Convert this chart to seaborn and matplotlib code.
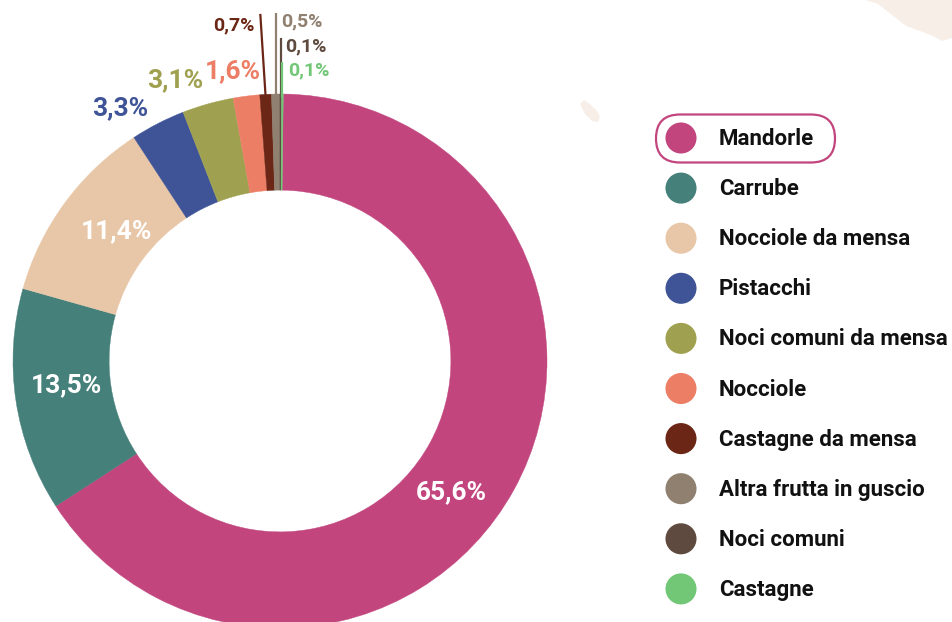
import matplotlib
matplotlib.use("Agg")
import matplotlib.pyplot as plt
import seaborn as sns
import numpy as np
from matplotlib.patches import FancyBboxPatch, Polygon

# --- dati ---
categorie = ["Mandorle", "Carrube", "Nocciole da mensa", "Pistacchi",
             "Noci comuni da mensa", "Nocciole", "Castagne da mensa",
             "Altra frutta in guscio", "Noci comuni", "Castagne"]
quote = [65.6, 13.5, 11.4, 3.3, 3.1, 1.6, 0.7, 0.5, 0.1, 0.1]
etichette = ["65,6%", "13,5%", "11,4%", "3,3%", "3,1%", "1,6%",
             "0,7%", "0,5%", "0,1%", "0,1%"]
colori = ["#C2457E", "#45807A", "#E8C7A8", "#3F5497", "#A0A150",
          "#EC7E66", "#6B2615", "#8F8070", "#5E4A3E", "#72C777"]

# posizione delle etichette (unita' del raggio), colore testo, allineamento
pos_etichette = [(0.640, -0.491), (-0.798, -0.090), (-0.614, 0.487),
                 (-0.599, 0.948), (-0.393, 1.052), (-0.176, 1.086),
                 (-0.094, 1.258), (0.004, 1.27), (0.019, 1.18), (0.030, 1.09)]
allineamento = ["center"] * 6 + ["right", "left", "left", "left"]
interne = [True, True, True] + [False] * 7
# linee guida per le fette piccole: (indice, altezza finale, scarto x)
guide = [(6, 1.30, -0.02), (7, 1.303, 0.0), (8, 1.21, 0.0), (9, 1.12, 0.0)]

sns.set_theme(style="white")
plt.rcParams['font.family'] = ['Roboto', 'DejaVu Sans']

W, H = 952, 622
fig = plt.figure(figsize=(W / 100, H / 100), dpi=100)
fig.patch.set_facecolor("white")

# sfondo: macchie beige
bg = fig.add_axes([0, 0, 1, 1], zorder=0)
bg.set_xlim(0, W)
bg.set_ylim(H, 0)
bg.axis("off")
bg.add_patch(Polygon([(866, 0), (878, 4), (892, 15), (906, 26), (920, 31),
                      (933, 36), (942, 41), (952, 38), (952, 0)],
                     closed=True, facecolor="#F7EEE8", edgecolor="none"))
bg.add_patch(Polygon([(580, 104), (584, 100), (590, 104), (597, 111),
                      (600, 117), (598, 122), (592, 121), (585, 114)],
                     closed=True, facecolor="#F7EEE8", edgecolor="none"))

# ciambella
cx, cy, r = 280, 361, 267
ax = fig.add_axes([(cx - r) / W, (H - cy - r) / H, 2 * r / W, 2 * r / H], zorder=1)
wedges, _ = ax.pie(quote, colors=colori, startangle=89.3, counterclock=False,
                   wedgeprops=dict(width=0.36, linewidth=0.3))
for w, c in zip(wedges, colori):
    w.set_edgecolor(c)
ax.set_xlim(-1, 1)
ax.set_ylim(-1, 1)
ax.set_aspect("equal")
ax.axis("off")

for i, (testo, (x, y)) in enumerate(zip(etichette, pos_etichette)):
    piccola = i >= 6
    ax.text(x, y, testo, ha=allineamento[i], va="center",
            fontsize=14 if piccola else 19, fontweight="bold",
            color="white" if interne[i] else colori[i], clip_on=False)

for idx, y_fine, dx in guide:
    w = wedges[idx]
    ang = np.deg2rad((w.theta1 + w.theta2) / 2)
    x0, y0 = np.cos(ang), np.sin(ang)
    ax.plot([x0, x0 + dx], [y0 - 0.01, y_fine], color=colori[idx],
            linewidth=1.6, clip_on=False, solid_capstyle="butt")

# legenda
leg = fig.add_axes([0, 0, 1, 1], zorder=2)
leg.set_xlim(0, W)
leg.set_ylim(H, 0)
leg.axis("off")
righe = 138 + 50.1 * np.arange(len(categorie))
sns.scatterplot(x=[681] * len(categorie), y=righe, hue=categorie,
                palette=colori, s=500, linewidth=0, legend=False, ax=leg)
for nome, y in zip(categorie, righe):
    leg.text(719, y + 1, nome, ha="left", va="center", fontsize=16,
             fontweight="semibold", color="#111111")
leg.add_patch(FancyBboxPatch((656, 114.5), 179, 48,
                             boxstyle="round,pad=0,rounding_size=24",
                             facecolor="none", edgecolor=colori[0], linewidth=1.6))
leg.set_xlim(0, W)
leg.set_ylim(H, 0)

fig.savefig("out.png", dpi=100)
